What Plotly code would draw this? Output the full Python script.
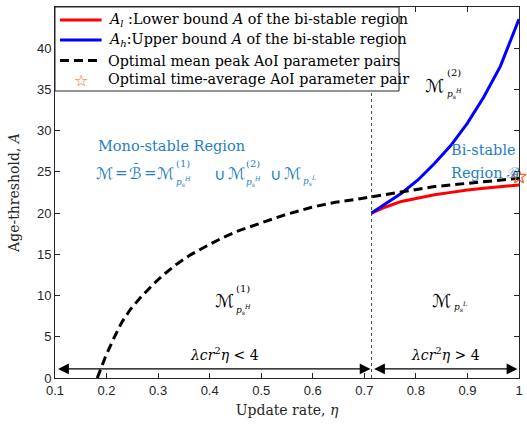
import plotly.graph_objects as go

# ---------------- data ----------------
eta_peak = [0.182, 0.198, 0.214, 0.230, 0.246, 0.265, 0.288, 0.310, 0.336, 0.362,
            0.394, 0.425, 0.458, 0.503, 0.547, 0.598, 0.644, 0.688, 0.717, 0.771,
            0.836, 0.900, 0.950, 1.000]
A_peak = [0.0, 2.6, 4.8, 6.8, 8.3, 9.7, 11.2, 12.5, 13.8, 14.9,
          16.0, 17.0, 17.9, 18.9, 19.8, 20.7, 21.3, 21.7, 22.0, 22.6,
          23.2, 23.6, 23.9, 24.2]

eta_bi = [0.714, 0.740, 0.772, 0.804, 0.836, 0.868, 0.900, 0.932, 0.964, 1.000]
A_low = [20.0, 20.7, 21.4, 21.8, 22.2, 22.5, 22.8, 23.0, 23.2, 23.4]
A_high = [20.0, 21.1, 22.4, 24.0, 26.0, 28.2, 30.9, 34.1, 37.8, 43.5]

eta_star = [1.0]
A_star = [24.4]

eta_boundary = 0.714      # lambda*c*r^2*eta = 4
arrow_A = 1.1

x_ticks = [0.1, 0.2, 0.3, 0.4, 0.5, 0.6, 0.7, 0.8, 0.9, 1.0]
x_tick_text = ["0.1", "0.2", "0.3", "0.4", "0.5", "0.6", "0.7", "0.8", "0.9", "1"]
y_ticks = [0, 5, 10, 15, 20, 25, 30, 35, 40]

legend_labels = [
    "<i>A</i><sub><i>l</i></sub> :Lower bound <i>A</i> of the bi-stable region",
    "<i>A</i><sub><i>h</i></sub>:Upper bound <i>A</i> of the bi-stable region",
    "Optimal mean peak AoI parameter pairs",
    "Optimal time-average AoI parameter pair",
]

X_RANGE = [0.1, 1.0]
Y_RANGE = [0, 44.97]

# ---------------- layout geometry ----------------
W, H = 527, 424
L, R, T, B = 55, 4, 7, 46
PW, PH = W - L - R, H - T - B

def px_x(px):
    return X_RANGE[0] + (px - L) / PW * (X_RANGE[1] - X_RANGE[0])

def px_y(py):
    return Y_RANGE[0] + (T + PH - py) / PH * (Y_RANGE[1] - Y_RANGE[0])

def pp_x(px):
    return (px - L) / PW

def pp_y(py):
    return (T + PH - py) / PH

SERIF = "DejaVu Serif"
MATH = "DejaVu Sans"
BLUE_TXT = "#1f7fc4"
AX = "#262626"
RED, BLUEL, STAR = "#ff0000", "#0000ff", "#f0642a"

fig = go.Figure()

fig.add_trace(go.Scatter(x=eta_bi, y=A_low, mode="lines",
                         line=dict(color=RED, width=3), name=legend_labels[0]))
fig.add_trace(go.Scatter(x=eta_bi, y=A_high, mode="lines",
                         line=dict(color=BLUEL, width=3), name=legend_labels[1]))
fig.add_trace(go.Scatter(x=eta_peak, y=A_peak, mode="lines",
                         line=dict(color="#000000", width=3, dash="9px,5px"),
                         name=legend_labels[2]))
fig.add_trace(go.Scatter(x=eta_star, y=A_star, mode="markers",
                         marker=dict(symbol="star-open", size=11, color=STAR,
                                     line=dict(width=1.2, color=STAR)),
                         cliponaxis=False, name=legend_labels[3]))

# dotted boundary
fig.add_shape(type="line", x0=eta_boundary, x1=eta_boundary, y0=Y_RANGE[0], y1=Y_RANGE[1],
              xref="x", yref="y", line=dict(color="#444444", width=1, dash="dot"))

ann = []

def txt(px, py, text, size=14, color="black", family=SERIF, xanchor="left"):
    ann.append(dict(x=px_x(px), y=px_y(py), xref="x", yref="y", text=text,
                    showarrow=False, xanchor=xanchor, yanchor="middle",
                    font=dict(size=size, color=color, family=family)))

PH_S = "<i>p</i><sub>s</sub><sup><i>H</i></sup>"
PL_S = "<i>p</i><sub>s</sub><sup><i>L</i></sup>"

# ---- manual legend (box, samples, labels) ----
fig.add_shape(type="rect", xref="paper", yref="paper",
              x0=pp_x(55), x1=pp_x(402), y0=pp_y(91), y1=pp_y(7),
              line=dict(color=AX, width=1), fillcolor="white", layer="above")
leg_y = [20, 40, 60.5, 79]
fig.add_shape(type="line", xref="paper", yref="paper", x0=pp_x(60), x1=pp_x(102),
              y0=pp_y(leg_y[0]), y1=pp_y(leg_y[0]), line=dict(color=RED, width=3), layer="above")
fig.add_shape(type="line", xref="paper", yref="paper", x0=pp_x(60), x1=pp_x(102),
              y0=pp_y(leg_y[1]), y1=pp_y(leg_y[1]), line=dict(color=BLUEL, width=3), layer="above")
fig.add_shape(type="line", xref="paper", yref="paper", x0=pp_x(60), x1=pp_x(102),
              y0=pp_y(leg_y[2]), y1=pp_y(leg_y[2]), line=dict(color="black", width=3, dash="9px,5px"),
              layer="above")
for i, lab in enumerate(legend_labels):
    txt(106, leg_y[i], lab, 14.3)
txt(81, leg_y[3] + 1, "☆", 16, STAR, MATH, "center")

# ---- Mono-stable region text ----
txt(96, 146, "Mono-stable Region", 14.5, BLUE_TXT)
txt(105, 173, "ℳ", 16, BLUE_TXT, MATH, "center")
txt(122, 173, "=", 15, BLUE_TXT, SERIF, "center")
txt(136, 173, "ℬ", 16, BLUE_TXT, MATH, "center")
txt(137, 169, "¯", 12, BLUE_TXT, SERIF, "center")
txt(151, 173, "=", 15, BLUE_TXT, SERIF, "center")
txt(166, 173, "ℳ", 16, BLUE_TXT, MATH, "center")
txt(175, 163, "(1)", 10, BLUE_TXT)
txt(175, 181, PH_S, 9, BLUE_TXT)
txt(221, 174, "∪", 16, BLUE_TXT, MATH, "center")
txt(238, 173, "ℳ", 16, BLUE_TXT, MATH, "center")
txt(246, 163, "(2)", 10, BLUE_TXT)
txt(246, 181, PH_S, 9, BLUE_TXT)
txt(278, 174, "∪", 16, BLUE_TXT, MATH, "center")
txt(295, 173, "ℳ", 16, BLUE_TXT, MATH, "center")
txt(303, 180, PL_S, 9, BLUE_TXT)

# ---- Bi-stable region text ----
txt(452, 150, "Bi-stable", 14.5, BLUE_TXT)
txt(452, 173, "Region ℬ", 14.5, BLUE_TXT)

# ---- region labels ----
txt(438, 85, "ℳ", 18, "black", MATH, "center")
txt(448, 72, "(2)", 10)
txt(448, 93, PH_S, 9)

txt(226, 300, "ℳ", 18, "black", MATH, "center")
txt(236, 288, "(1)", 10)
txt(236, 309, PH_S, 9)

txt(445, 300, "ℳ", 18, "black", MATH, "center")
txt(455, 306, PL_S, 9)

# ---- condition labels ----
txt(226, 354, "<i>λcr</i><sup>2</sup><i>η</i> &lt; 4", 14, xanchor="center")
txt(449, 354, "<i>λcr</i><sup>2</sup><i>η</i> &gt; 4", 14, xanchor="center")

# ---- double arrows ----
for x0, x1 in [(X_RANGE[0] + 0.003, eta_boundary - 0.002), (eta_boundary + 0.002, X_RANGE[1] - 0.003)]:
    ann.append(dict(x=x1, y=arrow_A, ax=x0, ay=arrow_A, xref="x", yref="y",
                    axref="x", ayref="y", showarrow=True, arrowhead=2, startarrowhead=2,
                    arrowside="end+start", arrowsize=1.8, startarrowsize=1.8,
                    arrowwidth=1.2, arrowcolor="black", text="", standoff=0, startstandoff=0))

axis_common = dict(showgrid=False, zeroline=False, showline=True, linecolor=AX, linewidth=1,
                   mirror="ticks", ticks="inside", ticklen=5, tickcolor=AX,
                   tickfont=dict(family="Liberation Sans", size=13, color=AX))

fig.update_layout(
    width=W, height=H,
    margin=dict(l=L, r=R, t=T, b=B),
    paper_bgcolor="white", plot_bgcolor="white",
    annotations=ann,
    showlegend=False,
    xaxis=dict(range=X_RANGE, tickvals=x_ticks, ticktext=x_tick_text,
               title=dict(text="Update rate, <i>η</i>", standoff=8,
                          font=dict(family=SERIF, size=14, color=AX)),
               **axis_common),
    yaxis=dict(range=Y_RANGE, tickvals=y_ticks,
               title=dict(text="Age-threshold, <i>A</i>", standoff=14,
                          font=dict(family=SERIF, size=14, color=AX)),
               **axis_common),
)

fig.write_html("out.html")
